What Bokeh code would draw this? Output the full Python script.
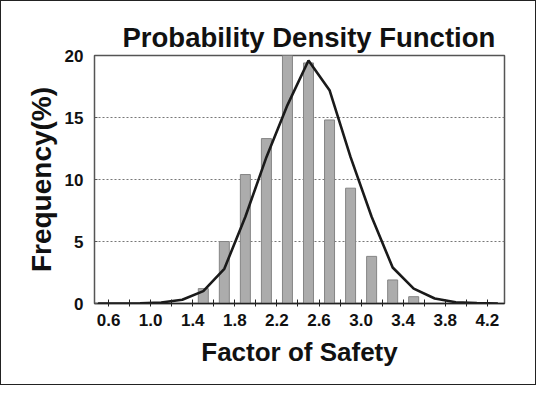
from bokeh.plotting import figure
from bokeh.models import Range1d, FixedTicker
from bokeh.embed import file_html
from bokeh.resources import INLINE

# ---- data ----
bar_x = [1.5, 1.7, 1.9, 2.1, 2.3, 2.5, 2.7, 2.9, 3.1, 3.3, 3.5]
bar_freq = [1.2, 5.0, 10.4, 13.3, 20.0, 19.4, 14.8, 9.3, 3.8, 1.9, 0.55]

pdf_x = [0.5, 0.7, 0.9, 1.1, 1.3, 1.5, 1.7, 1.9, 2.1, 2.3, 2.5, 2.7, 2.9, 3.1, 3.3, 3.5, 3.7, 3.9, 4.1, 4.3]
pdf_y = [0.0, 0.0, 0.02, 0.08, 0.3, 1.0, 2.8, 7.0, 11.8, 16.0, 19.6, 17.2, 11.8, 7.0, 2.9, 1.2, 0.4, 0.1, 0.03, 0.0]

x_ticks = [0.6, 1.0, 1.4, 1.8, 2.2, 2.6, 3.0, 3.4, 3.8, 4.2]
x_tick_labels = ["0.6", "1.0", "1.4", "1.8", "2.2", "2.6", "3.0", "3.4", "3.8", "4.2"]
x_minor_ticks = [0.8, 1.2, 1.6, 2.0, 2.4, 2.8, 3.2, 3.6, 4.0]
y_ticks = [0, 5, 10, 15, 20]

FONT = "Liberation Sans"
INK = "#111111"

p = figure(width=536, height=385, output_backend="svg", toolbar_location=None,
           x_range=Range1d(0.466, 4.363), y_range=Range1d(0, 20),
           title="Probability Density Function",
           min_border_left=93, min_border_right=33, min_border_top=54, min_border_bottom=83)
p.styles = {"border": "1.5px solid #222"}

p.title.text_font = FONT
p.title.text_font_size = "27.5px"
p.title.text_font_style = "bold"
p.title.align = "left"
p.title.offset = 28
p.title.standoff = 6
p.title.text_color = INK

p.background_fill_color = "white"
p.border_fill_color = "white"
p.outline_line_color = "#555"
p.outline_line_width = 1.5

p.vbar(x=bar_x, top=bar_freq, width=0.095, fill_color="#acacac", line_color="#858585", line_width=1)
p.line(pdf_x, pdf_y, line_color="#1a1a1a", line_width=2.6)

xa = p.xaxis[0]
xa.ticker = FixedTicker(ticks=x_ticks, minor_ticks=x_minor_ticks)
xa.major_label_overrides = {t: l for t, l in zip(x_ticks, x_tick_labels)}
xa.axis_label = "Factor of Safety"
xa.axis_label_text_font = FONT
xa.axis_label_text_font_size = "26px"
xa.axis_label_text_font_style = "bold"
xa.axis_label_text_color = INK
xa.axis_label_standoff = 8
xa.major_label_text_font = FONT
xa.major_label_text_font_size = "17px"
xa.major_label_text_font_style = "bold"
xa.major_label_text_color = INK
xa.major_label_standoff = 7
xa.axis_line_color = "#222"
xa.axis_line_width = 1.5
xa.major_tick_in = 4
xa.major_tick_out = 3
xa.minor_tick_in = 4
xa.minor_tick_out = 3
xa.major_tick_line_color = "#222"
xa.minor_tick_line_color = "#222"

ya = p.yaxis[0]
ya.ticker = FixedTicker(ticks=y_ticks)
ya.axis_label = "Frequency(%)"
ya.axis_label_text_font = FONT
ya.axis_label_text_font_size = "28px"
ya.axis_label_text_font_style = "bold"
ya.axis_label_text_color = INK
ya.axis_label_standoff = 5
ya.major_label_text_font = FONT
ya.major_label_text_font_size = "17px"
ya.major_label_text_font_style = "bold"
ya.major_label_text_color = INK
ya.major_label_standoff = 11
ya.axis_line_color = "#555"
ya.major_tick_in = 3
ya.major_tick_out = 0
ya.minor_tick_line_color = None
ya.major_tick_line_color = "#555"

p.xgrid.grid_line_color = None
p.ygrid.grid_line_color = "#777"
p.ygrid.grid_line_dash = "2 2"
p.ygrid.grid_line_width = 1

open("out.html", "w").write(file_html(p, INLINE))
